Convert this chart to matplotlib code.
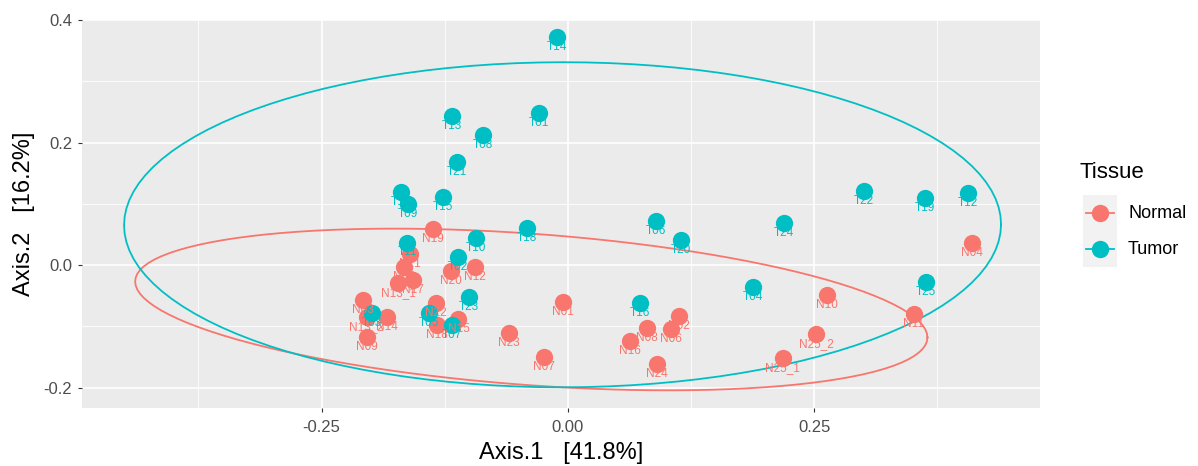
import matplotlib.pyplot as plt
import numpy as np
from matplotlib.ticker import MultipleLocator

# データ
normal_names = ['N19', 'N21', 'N05', 'N17', 'N13_1', 'N20', 'N12', 'N03', 'N13_2', 'N14',
                'N09', 'N22', 'N18', 'N15', 'N23', 'N01', 'N07', 'N16', 'N08', 'N06',
                'N02', 'N24', 'N10', 'N11', 'N25_2', 'N25_1', 'N04']
normal_x = [-0.137, -0.160, -0.166, -0.157, -0.172, -0.119, -0.094, -0.208, -0.204, -0.184,
            -0.204, -0.134, -0.133, -0.111, -0.060, -0.005, -0.024, 0.063, 0.080, 0.105,
            0.113, 0.090, 0.263, 0.351, 0.252, 0.218, 0.410]
normal_y = [0.059, 0.018, -0.003, -0.024, -0.029, -0.010, -0.003, -0.057, -0.085, -0.085,
            -0.117, -0.062, -0.098, -0.088, -0.111, -0.060, -0.150, -0.124, -0.103, -0.104,
            -0.083, -0.162, -0.049, -0.080, -0.113, -0.152, 0.036]

tumor_names = ['T14', 'T13', 'T01', 'T08', 'T21', 'T17', 'T09', 'T15', 'T10', 'T18',
               'T06', 'T20', 'T24', 'T22', 'T19', 'T12', 'T25', 'T04', 'T16', 'T23',
               'T02', 'T11', 'T03', 'T05', 'T07']
tumor_x = [-0.011, -0.118, -0.029, -0.086, -0.113, -0.169, -0.162, -0.127, -0.093, -0.042,
           0.089, 0.115, 0.219, 0.300, 0.362, 0.406, 0.363, 0.188, 0.073, -0.100,
           -0.112, -0.163, -0.199, -0.141, -0.118]
tumor_y = [0.372, 0.243, 0.248, 0.212, 0.168, 0.119, 0.100, 0.111, 0.044, 0.060,
           0.072, 0.041, 0.069, 0.121, 0.109, 0.117, -0.028, -0.036, -0.062, -0.052,
           0.013, 0.037, -0.078, -0.078, -0.098]

groups = ['Normal', 'Tumor']
col_n = '#F8766D'
col_t = '#00BFC4'

plt.rcParams['font.family'] = ['Liberation Sans', 'DejaVu Sans']


# stat_ellipse(type='t') 相当: MASS::cov.trob + F分布半径
def cov_trob(x, nu=5, maxit=25, tol=0.01):
    n, p = x.shape
    loc = x.mean(axis=0)
    w = np.ones(n)
    for _ in range(maxit):
        w0 = w
        X = x - loc
        _, d, vt = np.linalg.svd(np.sqrt(w / w.sum())[:, None] * X, full_matrices=False)
        wX = X @ vt.T / d
        Q = (wX ** 2).sum(axis=1)
        w = (nu + p) / (nu + Q)
        loc = (w[:, None] * x).sum(axis=0) / w.sum()
        if np.all(np.abs(w - w0) < tol):
            break
    cov = (np.sqrt(w)[:, None] * X).T @ (np.sqrt(w)[:, None] * X) / n
    return loc, cov


def ellipse(xs, ys, level=0.95, seg=120):
    pts = np.column_stack([xs, ys])
    center, shape = cov_trob(pts)
    dfd = len(xs) - 1
    # dfn=2 の F 分布の分位点
    fq = dfd / 2 * ((1 - level) ** (-2 / dfd) - 1)
    radius = np.sqrt(2 * fq)
    ang = np.linspace(0, 2 * np.pi, seg + 1)
    circ = np.column_stack([np.cos(ang), np.sin(ang)])
    R = np.linalg.cholesky(shape).T
    e = center + radius * (circ @ R)
    return e[:, 0], e[:, 1]


# 作図
fig = plt.figure(figsize=(11.98, 4.66), dpi=100)
ax = fig.add_axes([82 / 1198, 1 - 408 / 466, (1040 - 82) / 1198, (408 - 20) / 466])
ax.set_facecolor('#EBEBEB')
for s in ax.spines.values():
    s.set_visible(False)

ax.xaxis.set_major_locator(MultipleLocator(0.25))
ax.xaxis.set_minor_locator(MultipleLocator(0.125))
ax.yaxis.set_major_locator(MultipleLocator(0.2))
ax.yaxis.set_minor_locator(MultipleLocator(0.1))
ax.grid(which='major', color='white', lw=1.2)
ax.grid(which='minor', color='white', lw=0.6)
ax.set_axisbelow(True)
ax.tick_params(which='minor', length=0)
ax.tick_params(which='major', length=3, color='#333333', labelsize=12, labelcolor='#4D4D4D', pad=4)
ax.tick_params(axis='x', pad=6)

ex, ey = ellipse(normal_x, normal_y)
ax.plot(ex, ey, color=col_n, lw=1.3)
ex, ey = ellipse(tumor_x, tumor_y)
ax.plot(ex, ey, color=col_t, lw=1.3)

ax.scatter(normal_x, normal_y, s=155, color=col_n, lw=0, zorder=3)
ax.scatter(tumor_x, tumor_y, s=155, color=col_t, lw=0, zorder=3)

for nm, x, y in zip(normal_names, normal_x, normal_y):
    ax.annotate(nm, (x, y), xytext=(0, -7), textcoords='offset points', ha='center', va='center',
                fontsize=8.5, color=col_n, zorder=4)
for nm, x, y in zip(tumor_names, tumor_x, tumor_y):
    ax.annotate(nm, (x, y), xytext=(0, -7), textcoords='offset points', ha='center', va='center',
                fontsize=8.5, color=col_t, zorder=4)

ax.set_xlim(-0.493, 0.479)
ax.set_ylim(-0.233, 0.400)
ax.xaxis.set_major_formatter(plt.FuncFormatter(lambda v, p: f'{v:.2f}'))
ax.yaxis.set_major_formatter(plt.FuncFormatter(lambda v, p: f'{v:.1f}'))
ax.set_xlabel('Axis.1   [41.8%]', fontsize=17, labelpad=5)
ax.set_ylabel('Axis.2   [16.2%]', fontsize=17, labelpad=6)

# 凡例 (手描き)
lax = fig.add_axes([1083 / 1198, 1 - 267 / 466, 34 / 1198, 72 / 466])
lax.set_facecolor('#F2F2F2')
lax.set_xlim(0, 1)
lax.set_ylim(0, 2)
lax.set_xticks([])
lax.set_yticks([])
for s in lax.spines.values():
    s.set_visible(False)
for i, (g, c) in enumerate(zip(groups, [col_n, col_t])):
    yy = 1.5 - i
    lax.plot([0.1, 0.9], [yy, yy], color=c, lw=1.3)
    lax.plot([0.5], [yy], 'o', color=c, markersize=12.5, markeredgewidth=0)
    fig.text(1128 / 1198, 1 - (213 + 36 * i) / 466, g, fontsize=13, va='center', ha='left')
fig.text(1080 / 1198, 1 - 172 / 466, 'Tissue', fontsize=16, va='center', ha='left')

plt.savefig('out.png', dpi=100)
